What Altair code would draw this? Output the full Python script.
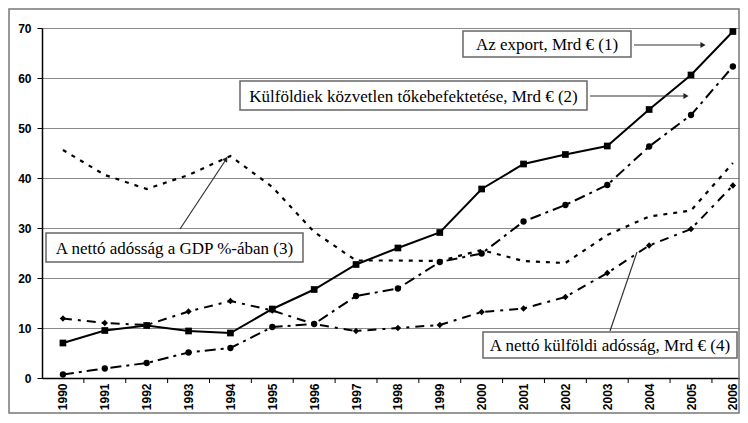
import altair as alt
import pandas as pd

years = list(range(1990, 2007))
export = [7.0, 9.5, 10.5, 9.4, 9.0, 13.8, 17.7, 22.7, 26.0, 29.1, 37.8, 42.8, 44.7, 46.4, 53.7, 60.6, 69.3]
fdi = [0.7, 1.9, 3.0, 5.1, 6.0, 10.2, 10.8, 16.4, 17.9, 23.2, 24.9, 31.3, 34.6, 38.6, 46.3, 52.6, 62.3]
debt_gdp = [45.6, 40.6, 37.8, 40.6, 44.4, 38.2, 29.2, 23.5, 23.5, 23.4, 25.6, 23.4, 23.0, 28.6, 32.3, 33.5, 43.0]
ext_debt = [11.9, 11.0, 10.6, 13.3, 15.4, 13.5, 10.8, 9.4, 10.0, 10.6, 13.2, 13.9, 16.2, 21.0, 26.5, 29.8, 38.5]
y_ticks = [0, 10, 20, 30, 40, 50, 60, 70]

lab1 = "Az export, Mrd € (1)"
lab2 = "Külföldiek közvetlen tőkebefektetése, Mrd € (2)"
lab3 = "A nettó adósság a GDP %-ában (3)"
lab4 = "A nettó külföldi adósság, Mrd € (4)"

SERIF = "Liberation Serif"
SANS = "Liberation Sans"

W, H = 698, 350
xscale = alt.Scale(domain=[1989.5, 2006.17], nice=False, zero=False)
yscale = alt.Scale(domain=[0, 70], nice=False)
xaxis = alt.Axis(values=years, format="d", labelAngle=270, ticks=False, grid=False,
                 labelFont=SANS, labelFontWeight="bold", labelFontSize=12,
                 labelColor="black", labelPadding=5, domainColor="black", domainWidth=1.5,
                 labelAlign="right", labelBaseline="middle", labelFlush=False, labelOverlap=False, title=None)
yaxis = alt.Axis(values=y_ticks, grid=True, gridColor="#8a8a8a", gridWidth=1.2,
                 labelFont=SANS, labelFontWeight="bold", labelFontSize=12,
                 labelColor="black", tickColor="black", tickSize=5, labelPadding=6,
                 domainColor="black", domainWidth=1.5, title=None)

def series_df(vals):
    return pd.DataFrame({"year": years, "value": vals})

X = alt.X("year:Q", scale=xscale, axis=xaxis)
Y = alt.Y("value:Q", scale=yscale, axis=yaxis)

one = pd.DataFrame({"a": [0]})

frame = alt.Chart(one).mark_rect(fill="transparent", stroke="#777", strokeWidth=1.5).encode(
    x=alt.value(-33), x2=alt.value(697), y=alt.value(-19), y2=alt.value(385))

bounds = pd.DataFrame({"b": [y + 0.5 for y in years[:-1]]})
ticks = alt.Chart(bounds).mark_rule(color="black", strokeWidth=1).encode(
    x=alt.X("b:Q", scale=xscale, axis=xaxis), y=alt.value(H), y2=alt.value(H + 5))

l_exp = alt.Chart(series_df(export)).mark_line(color="black", strokeWidth=2).encode(x=X, y=Y)
p_exp = alt.Chart(series_df(export)).mark_point(shape="square", filled=True, color="black", size=45, opacity=1).encode(x=X, y=Y)

l_fdi = alt.Chart(series_df(fdi)).mark_line(color="black", strokeWidth=2, strokeDash=[11, 5, 3, 5]).encode(x=X, y=Y)
p_fdi = alt.Chart(series_df(fdi)).mark_point(shape="circle", filled=True, color="black", size=40, opacity=1).encode(x=X, y=Y)

l_gdp = alt.Chart(series_df(debt_gdp)).mark_line(color="black", strokeWidth=2.2, strokeDash=[4, 6]).encode(x=X, y=Y)

l_ext = alt.Chart(series_df(ext_debt)).mark_line(color="black", strokeWidth=2, strokeDash=[9, 6, 3, 6]).encode(x=X, y=Y)
p_ext = alt.Chart(series_df(ext_debt)).mark_point(shape="diamond", filled=True, color="black", size=40, opacity=1).encode(x=X, y=Y)

def box(x1, x2, y1, y2, text):
    r = alt.Chart(one).mark_rect(fill="white", stroke="#666", strokeWidth=1.5).encode(
        x=alt.value(x1), x2=alt.value(x2), y=alt.value(y1), y2=alt.value(y2))
    t = alt.Chart(one).mark_text(font=SERIF, fontSize=17, color="black",
                                 align="center", baseline="middle").encode(
        x=alt.value((x1 + x2) / 2), y=alt.value((y1 + y2) / 2 + 1), text=alt.value(text))
    return r + t

def seg(x1, y1, x2, y2):
    return alt.Chart(one).mark_rule(color="#333", strokeWidth=1.2).encode(
        x=alt.value(x1), y=alt.value(y1), x2=alt.value(x2), y2=alt.value(y2))

def head(x, y, angle):
    return alt.Chart(one).mark_point(shape="triangle-up", filled=True, color="#222", size=35,
                                     angle=angle, opacity=1).encode(x=alt.value(x), y=alt.value(y))

annots = (
    box(421, 589, 3, 29, lab1) + seg(592, 17, 660, 17) + head(661, 17, 90)
    + box(198, 545, 53, 82, lab2) + seg(548, 68, 643, 68) + head(644, 68, 90)
    + box(4, 261, 205, 234, lab3) + seg(138, 201, 183, 133) + head(184, 131, 33)
    + box(441, 695, 304, 330, lab4) + seg(568, 303, 595, 224)
)

chart = alt.layer(
    frame, ticks, l_gdp, l_ext, l_fdi, l_exp, p_ext, p_fdi, p_exp, annots
).properties(
    width=W, height=H, autosize="none",
    padding={"left": 34, "top": 20, "right": 0, "bottom": 36},
    background="white"
).configure_view(stroke=None)

chart.save("out.html", embed_options={"renderer": "svg", "actions": False})
